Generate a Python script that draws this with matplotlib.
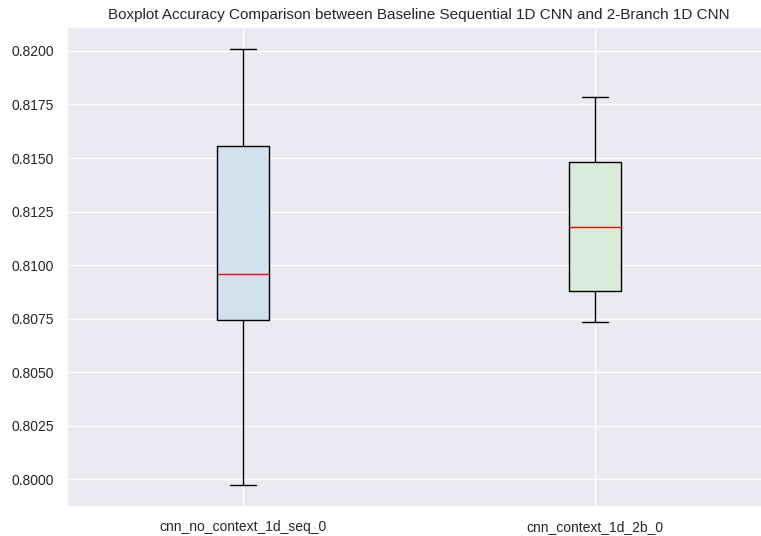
import matplotlib
matplotlib.use("Agg")
import matplotlib.pyplot as plt
import seaborn as sns

sns.set_theme(style="darkgrid")
plt.rcParams["font.family"] = ["Liberation Sans", "DejaVu Sans"]

labels = ["cnn_no_context_1d_seq_0", "cnn_context_1d_2b_0"]
whislo = [0.79972, 0.80733]
q1 = [0.80744, 0.80878]
med = [0.80957, 0.81178]
q3 = [0.81556, 0.81483]
whishi = [0.82010, 0.81786]
fill_colors = ["#d1e1ed", "#daebda"]

stats = []
for i in range(len(labels)):
    stats.append(dict(label=labels[i], whislo=whislo[i], q1=q1[i], med=med[i],
                      q3=q3[i], whishi=whishi[i], fliers=[]))

fig = plt.figure(figsize=(7.61, 5.36), dpi=100)
# axes runs past the right edge, as in the reference
ax = fig.add_axes([67 / 761, 1 - 507 / 536, 704 / 761, 480 / 536])
bp = ax.bxp(stats, patch_artist=True, showfliers=False,
            medianprops=dict(color="red"),
            boxprops=dict(edgecolor="black"),
            whiskerprops=dict(color="black"),
            capprops=dict(color="black"))
for patch, c in zip(bp["boxes"], fill_colors):
    patch.set_facecolor(c)

ax.set_title("Boxplot Accuracy Comparison between Baseline Sequential 1D CNN and 2-Branch 1D CNN",
             fontsize=11)
ax.tick_params(labelsize=10)
ax.yaxis.set_major_formatter(matplotlib.ticker.FormatStrFormatter("%.4f"))

fig.savefig("out.png")
